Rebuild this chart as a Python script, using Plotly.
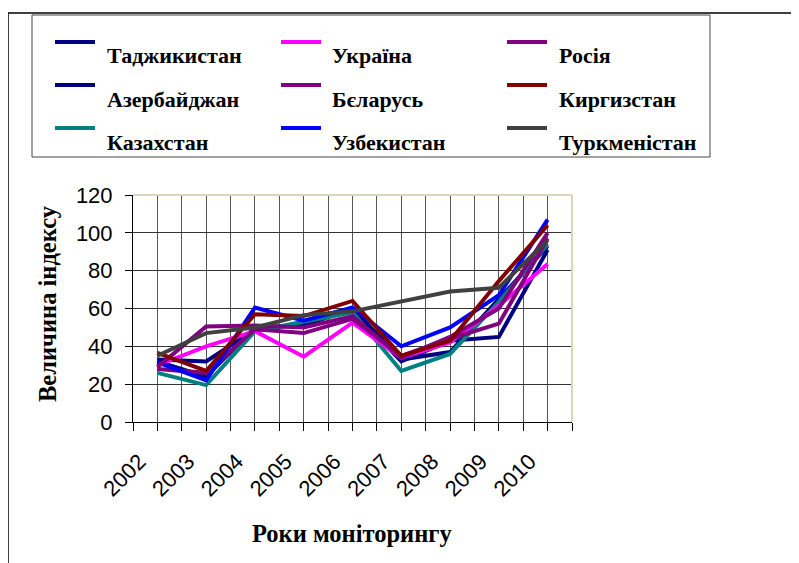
import plotly.graph_objects as go

years = [2002, 2003, 2004, 2005, 2006, 2007, 2008, 2009, 2010]

tajikistan   = [33, 32, 49, 52, 59, 32, 43, 45, 91]
azerbaijan   = [32, 24, 50, 51, 60, 33, 37, 65, 93]
kazakhstan   = [26, 19.5, 48, 53, 58, 27, 36, 63.5, 94]
ukraine      = [30, 40, 48, 34.5, 52.5, 34, 42, 61.5, 83.5]
belarus      = [28, 26, 49, 47, 54.5, 35, 44, 52, 97]
uzbekistan   = [31.5, 22, 60.5, 53.5, 60.5, 40, 50, 67, 107]
russia       = [29, 50.5, 51, 50, 56, 34, 45, 60, 100]
kyrgyzstan   = [36.5, 27, 57, 56, 64, 35, 43, 74.5, 104]
turkmenistan = [35, 47, 50, 56.5, 58.5, 64, 69, 71, 96]

series_names = ["Таджикистан", "Азербайджан", "Казахстан", "Україна", "Бєларусь",
                "Узбекистан", "Росія", "Киргизстан", "Туркменістан"]
series_values = [tajikistan, azerbaijan, kazakhstan, ukraine, belarus,
                 uzbekistan, russia, kyrgyzstan, turkmenistan]
series_colors = ["#000080", "#000080", "#008080", "#FF00FF", "#800080",
                 "#0000FF", "#800080", "#800000", "#404040"]

# legend layout order (row-major as in reference)
legend_order = ["Таджикистан", "Україна", "Росія",
                "Азербайджан", "Бєларусь", "Киргизстан",
                "Казахстан", "Узбекистан", "Туркменістан"]

y_title = "Величина індексу"
x_title = "Роки моніторингу"

OFF = 8  # page body margin
W, H = 799 - OFF, 563 - OFF
PL, PR, PT, PB = 133, 572, 195, 422  # plot area in page pixels


def pxx(x):
    return (x - PL) / (PR - PL)


def pxy(y):
    return (PB - y) / (PB - PT)


fig = go.Figure()
for name, vals, col in zip(series_names, series_values, series_colors):
    fig.add_trace(go.Scatter(x=years, y=vals, name=name, mode="lines",
                             line=dict(color=col, width=4), showlegend=False))

shapes = []
annotations = []

# outer chart border (left and top visible)
shapes.append(dict(type="line", xref="paper", yref="paper",
                   x0=pxx(8), x1=pxx(8), y0=pxy(13), y1=pxy(575),
                   line=dict(color="black", width=1.5)))
shapes.append(dict(type="line", xref="paper", yref="paper",
                   x0=pxx(8), x1=pxx(810), y0=pxy(13), y1=pxy(13),
                   line=dict(color="black", width=1.5)))

# plot area border (top and right, pale)
shapes.append(dict(type="line", xref="paper", yref="paper",
                   x0=0, x1=1, y0=1, y1=1, line=dict(color="#d8d8b8", width=2)))
shapes.append(dict(type="line", xref="paper", yref="paper",
                   x0=1, x1=1, y0=0, y1=1, line=dict(color="#d8d8b8", width=2)))

# legend box
shapes.append(dict(type="rect", xref="paper", yref="paper",
                   x0=pxx(32), x1=pxx(710), y0=pxy(157), y1=pxy(15),
                   line=dict(color="#444444", width=1), fillcolor="white", layer="below"))

col_line_x = [55, 281, 507]
col_text_x = [105, 330, 557]
row_line_y = [42, 85, 128]
row_text_y = [56, 99, 142]
for i, name in enumerate(legend_order):
    r, c = divmod(i, 3)
    col = series_colors[series_names.index(name)]
    shapes.append(dict(type="line", xref="paper", yref="paper",
                       x0=pxx(col_line_x[c]), x1=pxx(col_line_x[c] + 40),
                       y0=pxy(row_line_y[r]), y1=pxy(row_line_y[r]),
                       line=dict(color=col, width=4)))
    annotations.append(dict(xref="paper", yref="paper", x=pxx(col_text_x[c]),
                            y=pxy(row_text_y[r]), text=name, showarrow=False,
                            xanchor="left", yanchor="middle",
                            font=dict(family="Liberation Serif", size=22, color="black")))

# axis titles
annotations.append(dict(xref="paper", yref="paper", x=pxx(47), y=pxy(304),
                        text=y_title, showarrow=False, textangle=-90,
                        xanchor="center", yanchor="middle",
                        font=dict(family="Liberation Serif", size=24.5, color="black")))
annotations.append(dict(xref="paper", yref="paper", x=pxx(352), y=pxy(533),
                        text=x_title, showarrow=False,
                        xanchor="center", yanchor="middle",
                        font=dict(family="Liberation Serif", size=24.5, color="black")))

for a in annotations:
    a["text"] = "<b>" + a["text"] + "</b>"

fig.update_layout(
    width=W, height=H,
    margin=dict(l=PL - OFF, r=W - (PR - OFF), t=PT - OFF, b=H - (PB - OFF), pad=0),
    paper_bgcolor="white", plot_bgcolor="white",
    shapes=shapes, annotations=annotations,
    showlegend=False,
)

fig.update_xaxes(
    range=[2001.5, 2010.5], tickmode="linear", tick0=2002, dtick=1, tickformat="d",
    tickangle=-45, tickfont=dict(family="Liberation Sans", size=22, color="black"),
    ticklabelshift=-18, ticklabelstandoff=9,
    showline=True, linecolor="black", linewidth=1,
    ticks="outside", ticklen=8, tickcolor="black",
    showgrid=True, gridcolor="#555555", gridwidth=1, zeroline=False,
    minor=dict(tick0=2001.5, dtick=0.5, ticks="outside", ticklen=8, tickcolor="black",
               showgrid=True, gridcolor="#555555", gridwidth=1),
)
fig.update_yaxes(
    range=[0, 120], tickmode="linear", tick0=0, dtick=20,
    tickfont=dict(family="Liberation Sans", size=22, color="black"),
    ticklabelstandoff=8,
    showline=True, linecolor="black", linewidth=1,
    ticks="outside", ticklen=7, tickcolor="black",
    showgrid=True, gridcolor="#333333", gridwidth=1, zeroline=False,
)

fig.write_html("out.html")
